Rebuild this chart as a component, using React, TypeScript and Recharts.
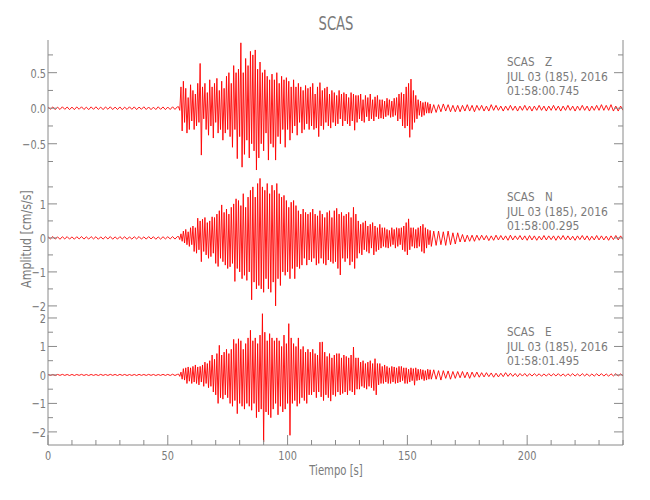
import { Line, LineChart, XAxis, YAxis } from "recharts";

// sample times: 1 s steps before the onset, 0.5 s through the strong motion, 1 s in the coda
const headTimes: number[] = Array.from({ length: 55 }, (_, i) => i);
const burstTimes: number[] = Array.from({ length: 212 }, (_, i) => 54.5 + i * 0.5);
const tailTimes: number[] = Array.from({ length: 80 }, (_, i) => 161 + i);

// Z component (cm/s/s)
const zHead = [
  0.02, -0.015, 0.018, -0.02, 0.015, -0.018, 0.02, -0.016, 0.017, -0.02,
  0.016, -0.02, 0.018, -0.015, 0.02, -0.018, 0.015, -0.02, 0.019, -0.016,
  0.02, -0.017, 0.016, -0.02, 0.018, -0.015, 0.02, -0.019, 0.016, -0.018,
  0.018, -0.02, 0.015, -0.017, 0.02, -0.016, 0.019, -0.02, 0.016, -0.015,
  0.02, -0.018, 0.017, -0.02, 0.015, -0.019, 0.02, -0.016, 0.018, -0.02,
  0.016, -0.018, 0.02, -0.017, 0.02,
];
const zBurst = [
  0.02, -0.03, 0.3, -0.32, 0.38, -0.2, 0.28, -0.35, 0.15, -0.3,
  0.33, -0.18, 0.25, -0.3, 0.2, -0.25, 0.35, -0.2, 0.63, -0.66,
  0.3, -0.15, 0.35, -0.3, 0.22, -0.38, 0.4, -0.25, 0.3, -0.42,
  0.35, -0.2, 0.42, -0.35, 0.25, -0.3, 0.38, -0.45, 0.28, -0.35,
  0.45, -0.3, 0.5, -0.4, 0.35, -0.55, 0.6, -0.3, 0.5, -0.71,
  0.55, -0.4, 0.92, -0.83, 0.5, -0.65, 0.7, -0.45, 0.6, -0.7,
  0.8, -0.5, 0.75, -0.6, 0.82, -0.87, 0.55, -0.7, 0.65, -0.5,
  0.5, -0.6, 0.54, -0.35, 0.45, -0.73, 0.4, -0.5, 0.48, -0.55,
  0.4, -0.73, 0.5, -0.4, 0.35, -0.5, 0.45, -0.3, 0.4, -0.55,
  0.43, -0.3, 0.38, -0.45, 0.3, -0.35, 0.4, -0.25, 0.3, -0.38,
  0.35, -0.2, 0.3, -0.35, 0.25, -0.3, 0.32, -0.22, 0.28, -0.3,
  0.3, -0.25, 0.35, -0.3, 0.2, -0.28, 0.3, -0.4, 0.36, -0.25,
  0.25, -0.3, 0.28, -0.2, 0.3, -0.25, 0.2, -0.28, 0.25, -0.2,
  0.22, -0.25, 0.18, -0.22, 0.25, -0.15, 0.2, -0.25, 0.22, -0.18,
  0.2, -0.22, 0.15, -0.25, 0.22, -0.18, 0.2, -0.31, 0.18, -0.2,
  0.18, -0.15, 0.2, -0.18, 0.12, -0.2, 0.18, -0.12, 0.15, -0.18,
  0.2, -0.15, 0.12, -0.18, 0.16, -0.12, 0.18, -0.15, 0.12, -0.14,
  0.12, -0.15, 0.1, -0.12, 0.14, -0.1, 0.12, -0.13, 0.1, -0.12,
  0.14, -0.1, 0.15, -0.18, 0.2, -0.15, 0.22, -0.25, 0.2, -0.28,
  0.3, -0.25, 0.35, -0.41, 0.41, -0.3, 0.25, -0.2, 0.18, -0.15,
  0.12, -0.1, 0.1, -0.12, 0.08, -0.1, 0.09, -0.07, 0.08, -0.07,
  0.06, -0.07,
];
const zTail = [
  0.05, -0.06, 0.05, -0.05, 0.06, -0.04, 0.05, -0.05, 0.04, -0.05,
  0.04, -0.05, 0.04, -0.04, 0.05, -0.04, 0.04, -0.05, 0.04, -0.03,
  0.04, -0.04, 0.03, -0.04, 0.05, -0.03, 0.04, -0.03, 0.03, -0.04,
  0.03, -0.03, 0.04, -0.03, 0.03, -0.04, 0.03, -0.03, 0.04, -0.03,
  0.03, -0.04, 0.03, -0.03, 0.04, -0.03, 0.03, -0.04, 0.03, -0.03,
  0.04, -0.03, 0.03, -0.04, 0.03, -0.03, 0.04, -0.03, 0.03, -0.04,
  0.03, -0.03, 0.04, -0.03, 0.03, -0.04, 0.03, -0.03, 0.04, -0.03,
  0.05, -0.03, 0.04, -0.03, 0.05, -0.04, 0.03, -0.04, 0.03, -0.03,
];

// N component
const nHead = [
  0.035, -0.03, 0.04, -0.035, 0.03, -0.04, 0.035, -0.03, 0.038, -0.035,
  0.03, -0.038, 0.035, -0.03, 0.04, -0.035, 0.03, -0.035, 0.038, -0.03,
  0.035, -0.04, 0.03, -0.035, 0.035, -0.03, 0.04, -0.038, 0.03, -0.035,
  0.038, -0.03, 0.035, -0.04, 0.03, -0.035, 0.035, -0.03, 0.04, -0.035,
  0.03, -0.035, 0.038, -0.03, 0.035, -0.04, 0.03, -0.035, 0.035, -0.03,
  0.035, -0.03, 0.04, -0.035, 0.04,
];
const nBurst = [
  0.04, -0.05, 0.12, -0.1, 0.2, -0.15, 0.25, -0.2, 0.18, -0.25,
  0.3, -0.2, 0.35, -0.4, 0.3, -0.45, 0.58, -0.35, 0.5, -0.7,
  0.55, -0.4, 0.6, -0.5, 0.45, -0.6, 0.5, -0.55, 0.62, -0.45,
  0.6, -0.75, 0.7, -0.84, 0.8, -0.6, 0.97, -0.7, 0.75, -0.8,
  0.85, -0.9, 0.7, -0.85, 0.9, -0.75, 1.0, -1.28, 1.15, -0.9,
  1.1, -1.0, 0.95, -1.2, 1.3, -1.1, 0.9, -1.25, 1.2, -1.0,
  1.4, -1.82, 1.5, -1.3, 1.2, -1.5, 1.6, -1.4, 1.75, -1.5,
  1.5, -1.6, 1.4, -1.2, 1.6, -1.5, 1.3, -1.6, 1.55, -1.3,
  1.4, -2.0, 1.6, -1.2, 1.3, -1.4, 1.2, -1.0, 1.25, -1.1,
  1.1, -1.0, 0.9, -1.2, 1.05, -0.9, 1.1, -1.2, 0.95, -0.85,
  0.8, -0.9, 0.7, -0.8, 0.85, -0.6, 0.75, -0.8, 0.7, -0.65,
  0.75, -0.7, 0.85, -0.6, 0.7, -0.8, 0.65, -0.75, 0.8, -0.6,
  0.7, -0.75, 0.6, -0.8, 0.75, -0.65, 0.8, -0.7, 0.6, -0.75,
  0.8, -0.7, 0.87, -0.9, 0.7, -1.09, 0.75, -0.6, 0.65, -0.7,
  0.7, -0.6, 0.75, -0.8, 0.6, -0.7, 0.9, -0.9, 0.7, -0.6,
  0.5, -0.45, 0.4, -0.5, 0.45, -0.35, 0.5, -0.4, 0.35, -0.45,
  0.4, -0.3, 0.45, -0.5, 0.35, -0.4, 0.3, -0.35, 0.4, -0.3,
  0.3, -0.25, 0.3, -0.28, 0.25, -0.3, 0.22, -0.25, 0.3, -0.2,
  0.25, -0.3, 0.3, -0.25, 0.28, -0.2, 0.3, -0.35, 0.35, -0.4,
  0.45, -0.5, 0.56, -0.35, 0.3, -0.25, 0.3, -0.3, 0.25, -0.3,
  0.3, -0.25, 0.35, -0.4, 0.4, -0.45, 0.3, -0.3, 0.25, -0.2,
  0.22, -0.25,
];
const nTail = [
  0.2, -0.22, 0.2, -0.2, 0.18, -0.22, 0.2, -0.2, 0.15, -0.18,
  0.15, -0.12, 0.1, -0.12, 0.08, -0.1, 0.08, -0.1, 0.08, -0.07,
  0.08, -0.06, 0.07, -0.08, 0.06, -0.07, 0.08, -0.06, 0.07, -0.06,
  0.06, -0.07, 0.08, -0.06, 0.06, -0.05, 0.07, -0.06, 0.06, -0.07,
  0.07, -0.06, 0.06, -0.07, 0.05, -0.06, 0.07, -0.06, 0.06, -0.05,
  0.06, -0.07, 0.06, -0.05, 0.07, -0.06, 0.06, -0.06, 0.05, -0.07,
  0.06, -0.05, 0.07, -0.06, 0.06, -0.07, 0.05, -0.06, 0.07, -0.06,
  0.06, -0.06, 0.05, -0.07, 0.06, -0.05, 0.07, -0.06, 0.06, -0.05,
];

// E component
const eHead = [
  0.02, -0.018, 0.015, -0.02, 0.018, -0.015, 0.02, -0.017, 0.016, -0.02,
  0.018, -0.02, 0.016, -0.015, 0.02, -0.018, 0.015, -0.02, 0.018, -0.016,
  0.015, -0.02, 0.02, -0.017, 0.016, -0.018, 0.02, -0.015, 0.018, -0.02,
  0.02, -0.016, 0.018, -0.02, 0.015, -0.018, 0.016, -0.02, 0.02, -0.015,
  0.016, -0.018, 0.02, -0.015, 0.018, -0.02, 0.015, -0.016, 0.02, -0.018,
  0.02, -0.02, 0.025, -0.02, 0.02,
];
const eBurst = [
  0.03, -0.05, 0.1, -0.15, 0.22, -0.18, 0.25, -0.3, 0.28, -0.22,
  0.25, -0.3, 0.3, -0.25, 0.35, -0.3, 0.28, -0.35, 0.3, -0.25,
  0.35, -0.4, 0.45, -0.3, 0.4, -0.45, 0.5, -0.4, 0.7, -0.6,
  0.55, -0.7, 0.75, -1.0, 1.04, -0.8, 0.7, -0.85, 0.8, -0.7,
  0.9, -0.8, 0.75, -1.0, 0.9, -1.1, 1.25, -0.9, 1.1, -1.36,
  1.27, -1.0, 1.2, -1.1, 0.9, -1.2, 1.1, -1.0, 1.3, -1.1,
  1.57, -1.24, 1.2, -1.0, 1.3, -1.5, 1.1, -1.3, 1.4, -1.2,
  2.15, -2.35, 1.5, -1.3, 1.2, -1.4, 1.45, -1.5, 1.3, -1.2,
  1.2, -1.0, 1.3, -1.4, 1.2, -1.1, 1.0, -1.3, 1.4, -1.2,
  1.1, -1.0, 1.8, -2.12, 1.3, -1.0, 1.1, -0.9, 1.0, -1.1,
  1.3, -1.0, 0.9, -0.8, 1.0, -0.9, 0.8, -1.0, 0.9, -0.7,
  0.8, -0.7, 0.9, -0.6, 0.75, -0.8, 0.7, -0.6, 1.15, -0.77,
  1.16, -0.9, 0.8, -0.7, 0.65, -0.8, 0.75, -0.92, 0.6, -0.7,
  0.7, -0.75, 0.75, -0.6, 0.75, -0.7, 0.6, -0.65, 0.7, -0.6,
  0.65, -0.7, 0.6, -0.55, 0.7, -0.6, 0.98, -0.7, 0.6, -0.5,
  0.6, -0.5, 0.45, -0.4, 0.5, -0.45, 0.4, -0.5, 0.45, -0.4,
  0.5, -0.45, 0.4, -0.55, 0.57, -0.7, 0.4, -0.35, 0.4, -0.3,
  0.3, -0.3, 0.35, -0.25, 0.3, -0.3, 0.25, -0.3, 0.3, -0.25,
  0.28, -0.3, 0.25, -0.28, 0.3, -0.25, 0.3, -0.2, 0.25, -0.3,
  0.25, -0.3, 0.2, -0.25, 0.25, -0.2, 0.22, -0.36, 0.25, -0.2,
  0.2, -0.18, 0.2, -0.15, 0.18, -0.2, 0.15, -0.18, 0.2, -0.15,
  0.18, -0.15,
];
const eTail = [
  0.18, -0.15, 0.15, -0.18, 0.15, -0.12, 0.14, -0.15, 0.12, -0.12,
  0.12, -0.1, 0.12, -0.1, 0.1, -0.12, 0.1, -0.08, 0.1, -0.08,
  0.08, -0.07, 0.08, -0.06, 0.07, -0.08, 0.06, -0.07, 0.06, -0.06,
  0.08, -0.05, 0.06, -0.05, 0.05, -0.06, 0.05, -0.04, 0.05, -0.05,
  0.045, -0.04, 0.045, -0.035, 0.04, -0.045, 0.035, -0.04, 0.045, -0.035,
  0.04, -0.035, 0.045, -0.04, 0.035, -0.045, 0.04, -0.035, 0.045, -0.04,
  0.035, -0.04, 0.045, -0.035, 0.04, -0.045, 0.035, -0.04, 0.04, -0.035,
  0.045, -0.04, 0.035, -0.045, 0.04, -0.035, 0.045, -0.04, 0.035, -0.035,
];

const timeTicks = [0, 10, 20, 30, 40, 50, 60, 70, 80, 90, 100, 110, 120, 130, 140, 150, 160, 170, 180, 190, 200, 210, 220, 230, 240];
const timeLabels = [0, 50, 100, 150, 200];

const zTicks = [-0.75, -0.5, -0.25, 0, 0.25, 0.5, 0.75];
const zLabels = [-0.5, 0, 0.5];
const nTicks = [-2, -1.5, -1, -0.5, 0, 0.5, 1, 1.5];
const nLabels = [-2, -1, 0, 1];
const eTicks = [-2, -1.5, -1, -0.5, 0, 0.5, 1, 1.5, 2];
const eLabels = [-2, -1, 0, 1, 2];

const stampDate = "JUL 03 (185), 2016";
const zTime = "01:58:00.745";
const nTime = "01:58:00.295";
const eTime = "01:58:01.495";

const allTimes = [...headTimes, ...burstTimes, ...tailTimes];
const zAll = [...zHead, ...zBurst, ...zTail];
const nAll = [...nHead, ...nBurst, ...nTail];
const eAll = [...eHead, ...eBurst, ...eTail];
const rows = allTimes.map((t, i) => ({ t, z: zAll[i], n: nAll[i], e: eAll[i] }));

const GRAY = "#8a8a8a";
const TEXT = "#7a7a7a";
const FONT = "'DejaVu Sans', sans-serif";
const PANEL_H = 135;

const minus = (s: string) => s.replace("-", "\u2212");

// narrow, tall lettering like the plotting package's stroke font
function NText(props: { x: number; y: number; size: number; k: number; anchor?: string; rotate?: number; children: any }) {
    const { x, y, size, k, anchor, rotate, children } = props;
    return (
        <text
            transform={`translate(${x},${y})${rotate ? ` rotate(${rotate})` : ""} scale(${k},1)`}
            fontFamily={FONT}
            fontSize={size}
            fill={TEXT}
            textAnchor={anchor || "start"}
        >
            {children}
        </text>
    );
}

function Panel(props: {
    top: number;
    dataKey: string;
    domain: [number, number];
    ticks: number[];
    labels: number[];
    fmt: (v: number) => string;
    comp: string;
    time: string;
    last?: boolean;
}) {
    const { top, dataKey, domain, ticks, labels, fmt, comp, time, last } = props;

    const leftTick = (p: any) => {
        const v = p.payload.value;
        const major = labels.includes(v);
        return (
            <g>
                <line x1={p.x} x2={p.x + (major ? 9 : 5)} y1={p.y} y2={p.y} stroke={GRAY} />
                {major && (
                    <NText x={p.x - 2} y={p.y + 5} size={13} k={0.75} anchor="end">
                        {minus(fmt(v))}
                    </NText>
                )}
            </g>
        );
    };
    const rightTick = (p: any) => {
        const v = p.payload.value;
        const major = labels.includes(v);
        return <line x1={p.x} x2={p.x - (major ? 9 : 5)} y1={p.y} y2={p.y} stroke={GRAY} />;
    };
    const topTick = (p: any) => {
        const v = p.payload.value;
        return <line x1={p.x} x2={p.x} y1={p.y} y2={p.y + (v % 50 === 0 ? 10 : 5)} stroke={GRAY} />;
    };
    const bottomTick = (p: any) => {
        const v = p.payload.value;
        const major = timeLabels.includes(v);
        return (
            <g>
                <line x1={p.x} x2={p.x} y1={p.y} y2={p.y - (major ? 10 : 5)} stroke={GRAY} />
                {major && (
                    <NText x={p.x} y={p.y + 15} size={13} k={0.75} anchor="middle">
                        {v}
                    </NText>
                )}
            </g>
        );
    };

    return (
        <div style={{ position: "absolute", left: 0, top: top - 2 }}>
            <LineChart
                width={650}
                height={PANEL_H + 4 + (last ? 30 : 0)}
                data={rows}
                margin={{ top: 2, right: 0, bottom: 2, left: 0 }}
            >
                <XAxis
                    xAxisId="b"
                    dataKey="t"
                    type="number"
                    domain={[0, 240]}
                    allowDataOverflow
                    orientation="bottom"
                    height={last ? 30 : 0}
                    ticks={timeTicks}
                    interval={0}
                    tickSize={0}
                    tickMargin={0}
                    tickLine={false}
                    tick={last ? bottomTick : false}
                    axisLine={{ stroke: GRAY }}
                />
                <XAxis
                    xAxisId="t"
                    dataKey="t"
                    type="number"
                    domain={[0, 240]}
                    allowDataOverflow
                    orientation="top"
                    height={0}
                    ticks={timeTicks}
                    interval={0}
                    tickSize={0}
                    tickMargin={0}
                    tickLine={false}
                    tick={topTick}
                    axisLine={{ stroke: GRAY }}
                />
                <YAxis
                    yAxisId="l"
                    type="number"
                    domain={domain}
                    allowDataOverflow
                    width={48}
                    ticks={ticks}
                    interval={0}
                    tickSize={0}
                    tickMargin={0}
                    tickLine={false}
                    tick={leftTick}
                    axisLine={{ stroke: GRAY }}
                />
                <YAxis
                    yAxisId="r"
                    orientation="right"
                    type="number"
                    domain={domain}
                    allowDataOverflow
                    width={27}
                    ticks={ticks}
                    interval={0}
                    tickSize={0}
                    tickMargin={0}
                    tickLine={false}
                    tick={rightTick}
                    axisLine={{ stroke: GRAY }}
                />
                <Line
                    xAxisId="b"
                    yAxisId="l"
                    type="linear"
                    dataKey={dataKey}
                    stroke="#ff0000"
                    strokeWidth={0.9}
                    dot={false}
                    isAnimationActive={false}
                />
            </LineChart>
            <svg
                width={650}
                height={PANEL_H}
                style={{ position: "absolute", left: 0, top: 2, pointerEvents: "none" }}
            >
                <NText x={507} y={26} size={13} k={0.8}>SCAS</NText>
                <NText x={545} y={26} size={13} k={0.8}>{comp}</NText>
                <NText x={507} y={41} size={13} k={0.83}>{stampDate}</NText>
                <NText x={507} y={55} size={13} k={0.83}>{time}</NText>
            </svg>
        </div>
    );
}

export default function App() {
    return (
        <div
            style={{
                position: "absolute",
                left: 0,
                top: 0,
                width: 650,
                height: 500,
                background: "#fff",
                overflow: "hidden",
            }}
        >
            <style>{`.recharts-surface { overflow: visible; }`}</style>
            <Panel top={40} dataKey="z" domain={[-0.94, 0.96]} ticks={zTicks} labels={zLabels} fmt={(v) => v.toFixed(1)} comp="Z" time={zTime} />
            <Panel top={175} dataKey="n" domain={[-2.12, 1.85]} ticks={nTicks} labels={nLabels} fmt={(v) => String(v)} comp="N" time={nTime} />
            <Panel top={310} dataKey="e" domain={[-2.46, 2.28]} ticks={eTicks} labels={eLabels} fmt={(v) => String(v)} comp="E" time={eTime} last />
            <svg width={650} height={500} style={{ position: "absolute", left: 0, top: 0, pointerEvents: "none" }}>
                <NText x={336} y={30} size={20} k={0.66} anchor="middle">SCAS</NText>
                <NText x={336} y={475} size={14} k={0.72} anchor="middle">Tiempo [s]</NText>
                <NText x={31} y={239} size={14} k={0.79} anchor="middle" rotate={-90}>Amplitud [cm/s/s]</NText>
            </svg>
        </div>
    );
}
